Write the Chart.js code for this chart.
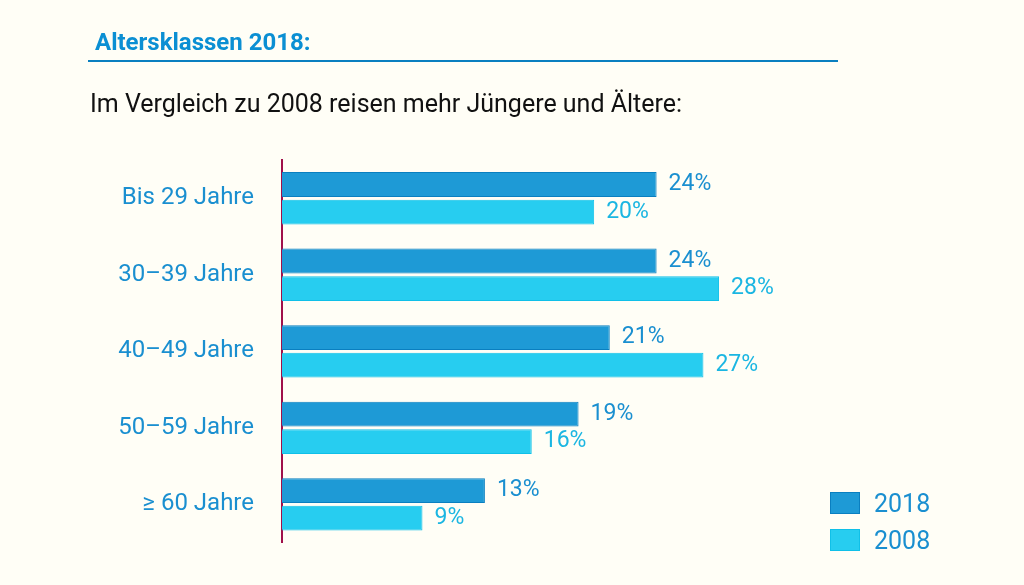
<!DOCTYPE html>
<html><head><meta charset="utf-8">
<script src="https://cdn.jsdelivr.net/npm/chart.js@4"></script>
<style>
body{margin:0;background:#fffef6;font-family:Roboto,sans-serif;}
#wrap{position:relative;width:1024px;height:585px;}
canvas{position:absolute;left:0;top:0;}
.t{position:absolute;left:95px;top:28px;font-size:24px;font-weight:bold;color:#0b8fd3;}
.line{position:absolute;left:88px;top:60px;width:750px;height:2px;background:#0a7fc0;}
.s{position:absolute;left:90px;top:89px;font-size:25px;color:#111;}
.lg{position:absolute;left:830px;font-size:25px;color:#1a8fd0;}
.lg span{display:inline-block;width:28px;height:20px;vertical-align:-2px;margin-right:14px;}
</style></head><body>
<div id="wrap">
<canvas id="c" width="1024" height="585"></canvas>
<div class="t">Altersklassen 2018:</div>
<div class="line"></div>
<div class="s">Im Vergleich zu 2008 reisen mehr Jüngere und Ältere:</div>
<div class="lg" style="top:489px"><span style="background:#1e9ad6;border:1px solid #0a7fc0"></span>2018</div>
<div class="lg" style="top:526px"><span style="background:#27cdf0;border:1px solid #10c0e8"></span>2008</div>
</div>
<script>
const categories = ["Bis 29 Jahre", "30–39 Jahre", "40–49 Jahre", "50–59 Jahre", "≥ 60 Jahre"];
const values2018 = [24, 24, 21, 19, 13];
const values2008 = [20, 28, 27, 16, 9];

const labelPlugin = {
  id: "endLabels",
  afterDatasetsDraw(chart) {
    const ctx = chart.ctx;
    ctx.save();
    ctx.font = "23px Roboto, sans-serif";
    ctx.textBaseline = "middle";
    chart.data.datasets.forEach((ds, i) => {
      ctx.fillStyle = i === 0 ? "#1a8fd0" : "#1bb6e2";
      chart.getDatasetMeta(i).data.forEach((bar, j) => {
        ctx.fillText(ds.data[j] + "%", bar.x + 12, bar.y);
      });
    });
    ctx.restore();
  }
};

new Chart(document.getElementById("c"), {
  type: "bar",
  data: {
    labels: categories,
    datasets: [
      { label: "2018", data: values2018, backgroundColor: "#1e9ad6", borderColor: "#0a7fc0", borderWidth: 1, borderSkipped: "left" },
      { label: "2008", data: values2008, backgroundColor: "#27cdf0", borderColor: "#10c0e8", borderWidth: 1, borderSkipped: "left" }
    ]
  },
  options: {
    indexAxis: "y",
    responsive: false,
    animation: false,
    layout: { padding: { top: 160, bottom: 33, left: 0, right: 24 } },
    categoryPercentage: 0.72,
    barPercentage: 0.9,
    plugins: { legend: { display: false }, tooltip: { enabled: false } },
    scales: {
      x: { min: 0, max: 46, display: false },
      y: {
        afterFit(s) { s.width = 282; },
        grid: { display: false, drawTicks: false },
        border: { color: "#a0104a", width: 2 },
        ticks: { color: "#1a8fd0", font: { size: 24, family: "Roboto" }, padding: 28 }
      }
    }
  },
  plugins: [labelPlugin]
});
</script>
</body></html>
